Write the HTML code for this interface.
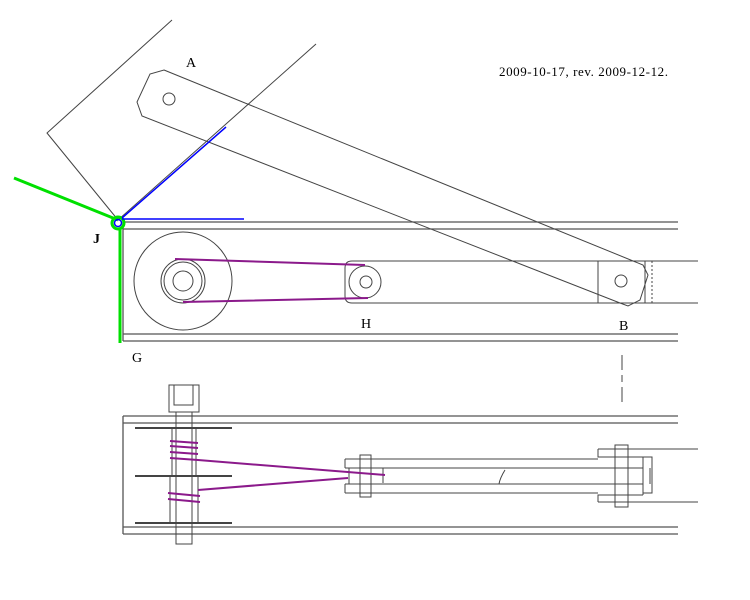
<!DOCTYPE html>
<html><head><style>body{margin:0;background:#fff}svg{display:block}</style></head><body>
<svg width="750" height="600" viewBox="0 0 750 600" xmlns="http://www.w3.org/2000/svg" font-family="Liberation Serif, serif">
<g fill="none" stroke="#444" stroke-width="1">
<path d="M164,70 L643,265 L648,275 L640,300 L628,306 L620,303 L142,116 L137,102 L150,74 Z"/>
<circle cx="169" cy="99" r="6"/>
<circle cx="621" cy="281" r="6"/>
<path d="M172,20 L47,133 L118,220 L316,44"/>
<path d="M123,222 H678 M123,229 H678 M123,334 H678 M123,341 H678 M123,222 V341" stroke="#555" stroke-width="1.3"/>
<circle cx="183" cy="281" r="49"/>
<circle cx="183" cy="281" r="22"/>
<circle cx="183" cy="281" r="19"/>
<circle cx="183" cy="281" r="10"/>
<path d="M352,261 H698 M352,303 H698 M352,261 Q345,261 345,268 V296 Q345,303 352,303"/>
<circle cx="365" cy="282" r="16"/>
<circle cx="366" cy="282" r="6"/>
<path d="M598,261 V303 M645,261 V303"/>
<path d="M652,261 V303" stroke-dasharray="2,2"/>
<path d="M622,355 V370 M622,375 V382 M622,387 V402"/>
<path d="M123,416 H678 M123,423 H678 M123,527 H678 M123,534 H678 M123,416 V534" stroke="#555" stroke-width="1.3"/>
<rect x="169" y="385" width="30" height="27"/><rect x="174" y="385" width="19" height="20"/>
<rect x="176" y="412" width="16" height="132"/>
<path d="M135,428 H232 M135,476 H232 M135,523 H232" stroke-width="2"/>
<rect x="172" y="428" width="24" height="48"/>
<rect x="170" y="476" width="28" height="47"/>
<path d="M345,459 H598 M345,468 H643 M345,484 H643 M345,493 H598 M345,459 V468 M345,484 V493 M349,468 V484 M383,468 V483"/>
<rect x="360" y="455" width="11" height="42"/>
<path d="M598,449 H698 M598,449 V457 H643 M598,502 H698 M598,502 V495 H643 M643,457 V495 M643,457 H652 V493 H643 M650,468 V484 M505,470 Q500,478 499,484"/>
<rect x="615" y="445" width="13" height="62"/>
</g>
<g stroke="#8b1a8b" stroke-width="2" fill="none">
<path d="M175,259 L365,265 M183,302 L368,298"/>
<path d="M170,441 L198,443 M170,446 L198,448 M170,452 L198,454 M170,458 L198,460 L385,475 M198,490 L348,478 M168,493 L200,496 M168,499 L200,502"/>
</g>
<path d="M14,178 L118,220" stroke="#00e000" stroke-width="3"/>
<path d="M120,228 V343" stroke="#00e000" stroke-width="3"/>
<circle cx="118" cy="223" r="6" fill="none" stroke="#00e000" stroke-width="3"/>
<circle cx="118" cy="223" r="3.5" fill="none" stroke="#0000ff" stroke-width="1.5"/>
<path d="M122,218 L226,127 M122,219 H244" stroke="#0000ff" stroke-width="1.5"/>
<g font-size="14" fill="#000">
<text x="186" y="67">A</text>
<text x="93" y="243" font-weight="bold">J</text>
<text x="361" y="328">H</text>
<text x="619" y="330">B</text>
<text x="132" y="362">G</text>
<text x="499" y="76" font-size="13" textLength="169">2009-10-17, rev. 2009-12-12.</text>
</g>
</svg>
</body></html>
